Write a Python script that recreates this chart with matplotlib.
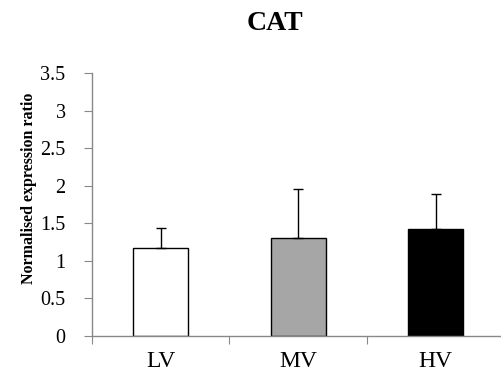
import matplotlib
matplotlib.use("Agg")
import matplotlib.pyplot as plt

categories = ["LV", "MV", "HV"]
values = [1.17, 1.30, 1.43]
errors = [0.27, 0.66, 0.46]
colors = ["#ffffff", "#a6a6a6", "#000000"]
yticks = [0, 0.5, 1, 1.5, 2, 2.5, 3, 3.5]
ytick_labels = ["0", "0.5", "1", "1.5", "2", "2.5", "3", "3.5"]

plt.rcParams['font.family'] = ['Liberation Serif', 'DejaVu Serif']

fig = plt.figure(figsize=(5.02, 3.78), dpi=100)
ax = fig.add_axes([92/502, 1-336/378, 412.5/502, 263/378])

x = list(range(len(categories)))
ax.bar(x, values, width=0.4, color=colors, edgecolor="black", linewidth=1.0, zorder=2)
ax.errorbar(x, values, yerr=[[0]*3, errors], fmt="none", ecolor="black",
            elinewidth=1.0, capsize=3.5, capthick=1.0, zorder=3)

ax.set_xlim(-0.5, 2.5)
ax.set_ylim(0, 3.5)
ax.set_yticks(yticks)
ax.set_yticklabels(ytick_labels, fontsize=14.5)
ax.set_xticks([-0.5, 0.5, 1.5, 2.5])
ax.set_xticklabels([])
ax.tick_params(axis="y", direction="out", length=6, color="#888888", pad=13)
ax.tick_params(axis="x", direction="out", length=6, color="#888888")
for i, c in enumerate(categories):
    ax.text(i, -0.2, c, ha="center", va="top", fontsize=17, transform=ax.transData)

for s in ["top", "right"]:
    ax.spines[s].set_visible(False)
for s in ["left", "bottom"]:
    ax.spines[s].set_color("#888888")
    ax.spines[s].set_linewidth(1.0)

fig.text(275/502, 1-24/378, "CAT", ha="center", va="center", fontsize=20, fontweight="bold")
fig.text(29/502, 1-188/378, "Normalised expression ratio", ha="center", va="center",
         rotation=90, fontsize=11.5, fontweight="bold")

fig.savefig("out.png", dpi=100)
